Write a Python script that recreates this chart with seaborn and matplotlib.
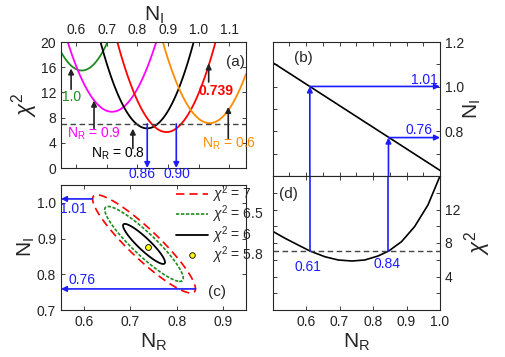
import numpy as np
import matplotlib
matplotlib.use("Agg")
import matplotlib.pyplot as plt
import seaborn as sns
from matplotlib.lines import Line2D

# (a) chi^2 against N_I for fixed N_R
slice_names = ['1.0', '0.9', '0.8', '0.739', '0.6']
slice_colors = ['#1e8c1e', '#ff00ff', 'black', '#ff0000', '#ff8c00']
slice_ni = [
    [0.55, 0.585, 0.618, 0.65, 0.68, 0.71],
    [0.568, 0.62, 0.67, 0.717, 0.77, 0.82, 0.866],
    [0.676, 0.73, 0.78, 0.825, 0.87, 0.93, 0.99],
    [0.733, 0.80, 0.85, 0.888, 0.93, 1.0, 1.062],
    [0.879, 0.93, 0.98, 1.038, 1.09, 1.155],
]
slice_chi2 = [
    [18.4, 16.2, 15.5, 16.1, 17.9, 20.9],
    [20.6, 13.9, 10.1, 8.9, 10.4, 14.6, 20.7],
    [20.8, 12.2, 7.6, 6.25, 7.4, 12.3, 20.9],
    [20.6, 10.1, 6.6, 5.8, 6.7, 12.2, 20.9],
    [20.6, 13.4, 8.9, 7.1, 8.6, 15.0],
]
chi2_cut = 7
min_ni = [0.832, 0.927]
min_ni_labels = ['0.86', '0.90']

# (c) confidence contours
chi2_levels = [6, 6.5, 7]
chi2_min = 5.8
best_nr, best_ni = 0.739, 0.877
centre_nr, centre_ni = 0.7295, 0.885
q_a, q_b, q_c = 586.0, 433.0, 383.5
tip_nr = [0.618, 0.841]
tip_ni = [1.011, 0.759]
tip_labels = ['1.01', '0.76']

# (b) best N_I against N_R, (d) chi^2 profile
line_nr = [0.5, 1.0]
line_ni = [1.108, 0.625]
prof_nr = [0.502, 0.537, 0.576, 0.611, 0.656, 0.696, 0.737, 0.775,
           0.815, 0.847, 0.885, 0.924, 0.964, 0.999]
prof_chi2 = [9.35, 8.56, 7.76, 7.05, 6.36, 5.97, 5.85, 5.97,
             6.45, 7.05, 8.16, 9.95, 12.54, 15.9]
cross_nr = [0.611, 0.846]
cross_ni = [1.001, 0.772]
cross_nr_labels = ['0.61', '0.84']

sns.set_style("ticks")
plt.rcParams['font.family'] = ['Liberation Sans', 'DejaVu Sans']
plt.rcParams['mathtext.fontset'] = 'custom'
plt.rcParams['mathtext.rm'] = 'Liberation Sans'
plt.rcParams['mathtext.it'] = 'Liberation Sans:italic'
plt.rcParams['mathtext.bf'] = 'Liberation Sans:bold'
plt.rcParams['axes.linewidth'] = 0.8

BLUE = '#1c1cff'
W, H = 506, 357


def box(x0, y0, x1, y1):
    return [x0 / W, 1 - y1 / H, (x1 - x0) / W, (y1 - y0) / H]


def arrow(ax, frm, to, color, lw=1.2):
    ax.annotate('', xy=to, xytext=frm, annotation_clip=False,
                arrowprops=dict(arrowstyle='-|>', color=color, lw=lw,
                                mutation_scale=8, shrinkA=0, shrinkB=0))


def ticks(ax):
    ax.tick_params(direction='in', top=True, right=True, length=3,
                   width=0.6, labelsize=10, colors='#222222')


fig = plt.figure(figsize=(W / 100, H / 100), dpi=100)
ax_a = fig.add_axes(box(61, 42, 246, 168))
ax_c = fig.add_axes(box(61, 185, 246, 310))
ax_b = fig.add_axes(box(272.7, 42, 440, 176))
ax_d = fig.add_axes(box(272.7, 176, 440, 310))

# ---- (a)
for ni, chi, col in zip(slice_ni, slice_chi2, slice_colors):
    sns.regplot(x=np.array(ni), y=np.array(chi), order=2, scatter=False,
                ci=None, color=col, line_kws=dict(lw=1.3), ax=ax_a)
ax_a.axhline(chi2_cut, color='#444444', ls=(0, (4, 2.5)), lw=1)
ax_a.set_xlim(0.55, 1.155)
ax_a.set_ylim(0, 20)
ax_a.set_xticks([0.6, 0.7, 0.8, 0.9, 1.0, 1.1])
ax_a.set_yticks([0, 4, 8, 12, 16, 20])
ticks(ax_a)
ax_a.tick_params(labeltop=True, labelbottom=False)
ax_a.xaxis.set_label_position('top')
ax_a.set_xlabel(r'N$_\mathrm{I}$', fontsize=15, labelpad=2)
ax_a.set_ylabel(r'$\chi^2$', fontsize=16)
ax_a.yaxis.set_label_coords(-0.112, 0.5)

arrow(ax_a, (0.583, 12.5), (0.583, 15.8), '#222222')
arrow(ax_a, (0.658, 6.3), (0.658, 10.7), '#222222')
arrow(ax_a, (0.785, 3.1), (0.785, 6.25), '#222222')
arrow(ax_a, (1.033, 13.65), (1.033, 16.6), '#222222')
arrow(ax_a, (1.097, 4.67), (1.097, 9.7), '#222222')
ax_a.text(0.583, 11.3, slice_names[0], color=slice_colors[0], fontsize=10,
          ha='center', va='center')
ax_a.text(0.658, 5.5, r'N$_\mathrm{R}$ = ' + slice_names[1],
          color=slice_colors[1], fontsize=10, ha='center', va='center')
ax_a.text(0.735, 2.2, r'N$_\mathrm{R}$ = ' + slice_names[2],
          color=slice_colors[2], fontsize=10, ha='center', va='center')
ax_a.text(1.058, 12.2, slice_names[3], color=slice_colors[3], fontsize=10,
          fontweight='bold', ha='center', va='center')
ax_a.text(1.098, 3.8, r'N$_\mathrm{R}$ = ' + slice_names[4],
          color=slice_colors[4], fontsize=10, ha='center', va='center',
          clip_on=False)
ax_a.text(1.12, 16.9, '(a)', fontsize=11, ha='center', va='center')
for x, lab, lx in zip(min_ni, min_ni_labels, [0.816, 0.929]):
    arrow(ax_a, (x, chi2_cut), (x, 0), BLUE)
    ax_a.text(lx, -1.0, lab, color=BLUE, fontsize=10, ha='center',
              va='center', clip_on=False)

# ---- (c)
gx, gy = np.meshgrid(np.linspace(0.55, 0.95, 400), np.linspace(0.7, 1.05, 400))
dx, dy = gx - centre_nr, gy - centre_ni
surf = chi2_min + q_a * dx ** 2 + 2 * q_b * dx * dy + q_c * dy ** 2
ax_c.contour(gx, gy, surf, levels=chi2_levels,
             colors=['black', '#1e8c1e', '#ff0000'],
             linestyles=['solid', (0, (2, 1)), (0, (5, 3))],
             linewidths=[1.3, 1.2, 1.2])
sns.scatterplot(x=[best_nr], y=[best_ni], color='#ffff00', edgecolor='black',
                s=18, linewidth=0.6, zorder=5, ax=ax_c)
ax_c.set_xlim(0.55, 0.95)
ax_c.set_ylim(0.7, 1.05)
ax_c.set_xticks([0.6, 0.7, 0.8, 0.9])
ax_c.set_yticks([0.7, 0.8, 0.9, 1.0])
ticks(ax_c)
ax_c.set_xlabel(r'N$_\mathrm{R}$', fontsize=15, labelpad=2)
ax_c.set_ylabel(r'N$_\mathrm{I}$', fontsize=15)
ax_c.yaxis.set_label_coords(-0.13, 0.5)
for x, y, lab, pos in zip(tip_nr, tip_ni, tip_labels,
                          [(0.576, 0.982), (0.595, 0.783)]):
    arrow(ax_c, (x, y), (0.55, y), BLUE)
    ax_c.text(pos[0], pos[1], lab, color=BLUE, fontsize=10,
              ha='center', va='center')
ax_c.text(0.888, 0.750, '(c)', fontsize=11, ha='center', va='center')

handles = [
    Line2D([], [], color='#ff0000', ls=(0, (5, 3)), lw=1.2),
    Line2D([], [], color='#1e8c1e', ls=(0, (2, 1)), lw=1.2),
    Line2D([], [], color='black', lw=1.3),
    Line2D([], [], ls='none', marker='o', markersize=4,
           markerfacecolor='#ffff00', markeredgecolor='black', mew=0.6),
]
labels = [r'$\chi^2$ = 7', r'$\chi^2$ = 6.5', r'$\chi^2$ = 6',
          r'$\chi^2$ = 5.8']
fig.legend(handles, labels, loc='upper left',
           bbox_to_anchor=(176 / W, 1 - 183 / H), frameon=False, fontsize=10,
           handlelength=2.3, handletextpad=0.3, labelspacing=-0.08,
           borderpad=0, borderaxespad=0, numpoints=1)

# ---- (b)
sns.lineplot(x=line_nr, y=line_ni, color='black', lw=1.2, ax=ax_b)
ax_b.set_xlim(0.5, 1.0)
ax_b.set_ylim(0.6, 1.2)
ax_b.set_xticks(np.arange(0.5, 1.001, 0.05))
ax_b.set_yticks([0.6, 0.7, 0.8, 0.9, 1.0, 1.1, 1.2])
ax_b.set_yticklabels(['', '', '0.8', '', '1.0', '', '1.2'])
ticks(ax_b)
ax_b.tick_params(labelleft=False, labelright=True, labelbottom=False)
ax_b.yaxis.set_label_position('right')
ax_b.set_ylabel(r'N$_\mathrm{I}$', fontsize=15)
ax_b.yaxis.set_label_coords(1.13, 0.5)
for x, y, lab, pos in zip(cross_nr, cross_ni, tip_labels,
                          [(0.954, 1.031), (0.936, 0.804)]):
    arrow(ax_b, (x, 0.6), (x, y), BLUE)
    arrow(ax_b, (x, y), (1.0, y), BLUE)
    ax_b.text(pos[0], pos[1], lab, color=BLUE, fontsize=10,
              ha='center', va='center')
ax_b.text(0.591, 1.128, '(b)', fontsize=11, ha='center', va='center')

# ---- (d)
sns.lineplot(x=prof_nr, y=prof_chi2, color='black', lw=1.2, ax=ax_d)
ax_d.axhline(chi2_cut, color='#444444', ls=(0, (4, 2.5)), lw=1)
ax_d.set_xlim(0.5, 1.0)
ax_d.set_ylim(0, 16)
ax_d.set_xticks([0.5, 0.6, 0.7, 0.8, 0.9, 1.0])
ax_d.set_xticklabels(['', '0.6', '0.7', '0.8', '0.9', '1.0'])
ax_d.set_yticks(np.arange(0, 17, 2))
ax_d.set_yticklabels(['', '', '4', '', '8', '', '12', '', ''])
ticks(ax_d)
ax_d.tick_params(labelleft=False, labelright=True)
ax_d.yaxis.set_label_position('right')
ax_d.set_ylabel(r'$\chi^2$', fontsize=16)
ax_d.yaxis.set_label_coords(1.13, 0.5)
ax_d.set_xlabel(r'N$_\mathrm{R}$', fontsize=15, labelpad=2)
for x, lab, pos in zip(cross_nr, cross_nr_labels, [(0.604, 5.17), (0.841, 5.46)]):
    ax_d.plot([x, x], [chi2_cut, 16], color=BLUE, lw=1.2)
    ax_d.text(pos[0], pos[1], lab, color=BLUE, fontsize=10,
              ha='center', va='center')
ax_d.text(0.547, 13.9, '(d)', fontsize=11, ha='center', va='center')

fig.savefig('out.png', dpi=100)
